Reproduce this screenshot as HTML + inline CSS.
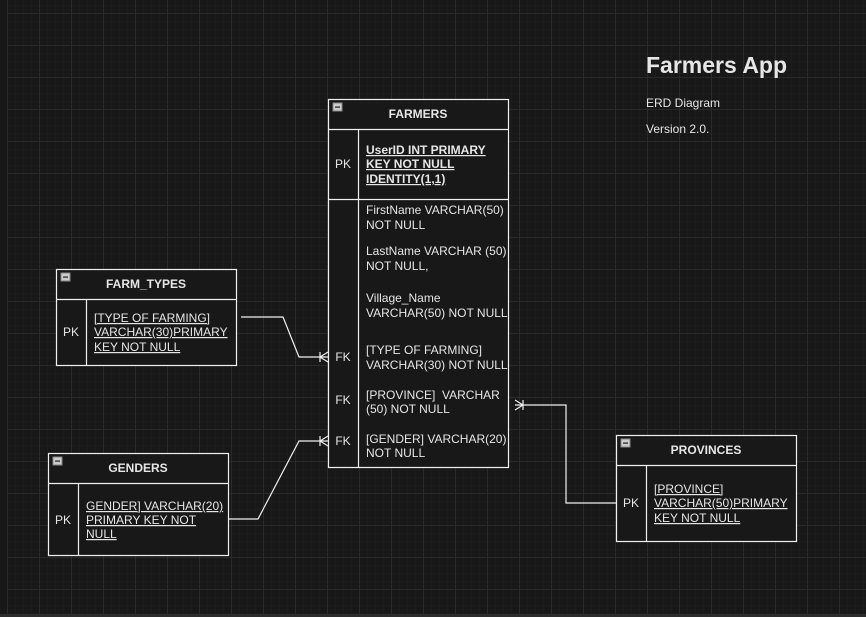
<!DOCTYPE html>
<html><head><meta charset="utf-8"><style>
html,body{margin:0;padding:0;background:#181818;width:866px;height:617px;overflow:hidden}
svg{display:block}
text{font-family:"Liberation Sans",Arial,sans-serif;fill:#e6e6e6;font-size:12px}
.h{font-weight:bold;font-size:12px}
.u{text-decoration:underline}
</style></head><body>
<svg width="866" height="617" viewBox="0 0 866 617" xmlns="http://www.w3.org/2000/svg">
<defs>
<pattern id="minor" x="7" y="13" width="8" height="8" patternUnits="userSpaceOnUse">
<path d="M0 0H8M0 0V8" stroke="#1f1f1f" stroke-width="1" fill="none"/>
</pattern>
<pattern id="major" x="7" y="13" width="32" height="32" patternUnits="userSpaceOnUse">
<path d="M0 0.5H32M0.5 0V32" stroke="#2a2a2a" stroke-width="1" fill="none"/>
</pattern>
</defs>
<rect width="866" height="617" fill="#181818"/>
<rect x="7" width="859" height="614" fill="url(#minor)"/>
<rect x="7" width="859" height="614" fill="url(#major)"/>
<rect x="0" y="614" width="866" height="3" fill="#2c2c2c"/>

<g stroke="#f0f0f0" stroke-width="1.2" fill="none">
<polyline points="241,317 283,317 299,357 328,357"/>
<path d="M320,352V362M320,357L328,352M320,357L328,362"/>
<polyline points="228,519 258,519 299,441 328,441"/>
<path d="M320,436V446M320,441L328,436M320,441L328,446"/>
<polyline points="616,503 566,503 566,405 515,405"/>
<path d="M523,400V410M523,405L515,400M523,405L515,410"/>
</g>

<g stroke="#f0f0f0" stroke-width="1.2" fill="#181818">
<rect x="328.5" y="99.5" width="180" height="368"/>
<line x1="328.5" y1="129.5" x2="508.5" y2="129.5"/>
<line x1="328.5" y1="199.5" x2="508.5" y2="199.5"/>
<line x1="358.5" y1="129.5" x2="358.5" y2="467.5"/>
</g>
<rect x="333" y="103" width="9" height="8" fill="#ccc" stroke="#888"/><rect x="335" y="106.5" width="5" height="1.2" fill="#222"/>
<text x="418" y="118" class="h" text-anchor="middle">FARMERS</text>
<text x="343" y="168" text-anchor="middle">PK</text>
<text x="366" y="154" class="u h">UserID INT PRIMARY</text>
<text x="366" y="168" class="u h">KEY NOT NULL</text>
<text x="366" y="183" class="u h">IDENTITY(1,1)</text>
<text x="366" y="214">FirstName VARCHAR(50)</text>
<text x="366" y="229">NOT NULL</text>
<text x="366" y="255">LastName VARCHAR (50)</text>
<text x="366" y="270">NOT NULL,</text>
<text x="366" y="302">Village_Name</text>
<text x="366" y="317">VARCHAR(50) NOT NULL</text>
<text x="343" y="361" text-anchor="middle">FK</text>
<text x="366" y="354">[TYPE OF FARMING]</text>
<text x="366" y="369">VARCHAR(30) NOT NULL</text>
<text x="343" y="404" text-anchor="middle">FK</text>
<text x="366" y="399">[PROVINCE]&#160; VARCHAR</text>
<text x="366" y="413">(50) NOT NULL</text>
<text x="343" y="445" text-anchor="middle">FK</text>
<text x="366" y="443">[GENDER] VARCHAR(20)</text>
<text x="366" y="457">NOT NULL</text>

<g stroke="#f0f0f0" stroke-width="1.2" fill="#181818">
<rect x="56.5" y="269.5" width="180" height="96"/>
<line x1="56.5" y1="299.5" x2="236.5" y2="299.5"/>
<line x1="86.5" y1="299.5" x2="86.5" y2="365.5"/>
</g>
<rect x="61" y="273" width="9" height="8" fill="#ccc" stroke="#888"/><rect x="63" y="276.5" width="5" height="1.2" fill="#222"/>
<text x="146" y="288" class="h" text-anchor="middle">FARM_TYPES</text>
<text x="71" y="336" text-anchor="middle">PK</text>
<text x="94" y="322" class="u">[TYPE OF FARMING]</text>
<text x="94" y="336" class="u">VARCHAR(30)PRIMARY</text>
<text x="94" y="351" class="u">KEY NOT NULL</text>

<g stroke="#f0f0f0" stroke-width="1.2" fill="#181818">
<rect x="48.5" y="453.5" width="180" height="102"/>
<line x1="48.5" y1="483.5" x2="228.5" y2="483.5"/>
<line x1="78.5" y1="483.5" x2="78.5" y2="555.5"/>
</g>
<rect x="53" y="457" width="9" height="8" fill="#ccc" stroke="#888"/><rect x="55" y="460.5" width="5" height="1.2" fill="#222"/>
<text x="138" y="472" class="h" text-anchor="middle">GENDERS</text>
<text x="63" y="524" text-anchor="middle">PK</text>
<text x="86" y="510" class="u">GENDER] VARCHAR(20)</text>
<text x="86" y="524" class="u">PRIMARY KEY NOT</text>
<text x="86" y="538" class="u">NULL</text>

<g stroke="#f0f0f0" stroke-width="1.2" fill="#181818">
<rect x="616.5" y="435.5" width="180" height="106"/>
<line x1="616.5" y1="465.5" x2="796.5" y2="465.5"/>
<line x1="646.5" y1="465.5" x2="646.5" y2="541.5"/>
</g>
<rect x="621" y="439" width="9" height="8" fill="#ccc" stroke="#888"/><rect x="623" y="442.5" width="5" height="1.2" fill="#222"/>
<text x="706" y="454" class="h" text-anchor="middle">PROVINCES</text>
<text x="631" y="507" text-anchor="middle">PK</text>
<text x="654" y="493" class="u">[PROVINCE]</text>
<text x="654" y="507" class="u">VARCHAR(50)PRIMARY</text>
<text x="654" y="522" class="u">KEY NOT NULL</text>

<text x="646" y="73" style="font-size:23px;font-weight:bold">Farmers App</text>
<text x="646" y="107">ERD Diagram</text>
<text x="646" y="133">Version 2.0.</text>
</svg>
</body></html>
